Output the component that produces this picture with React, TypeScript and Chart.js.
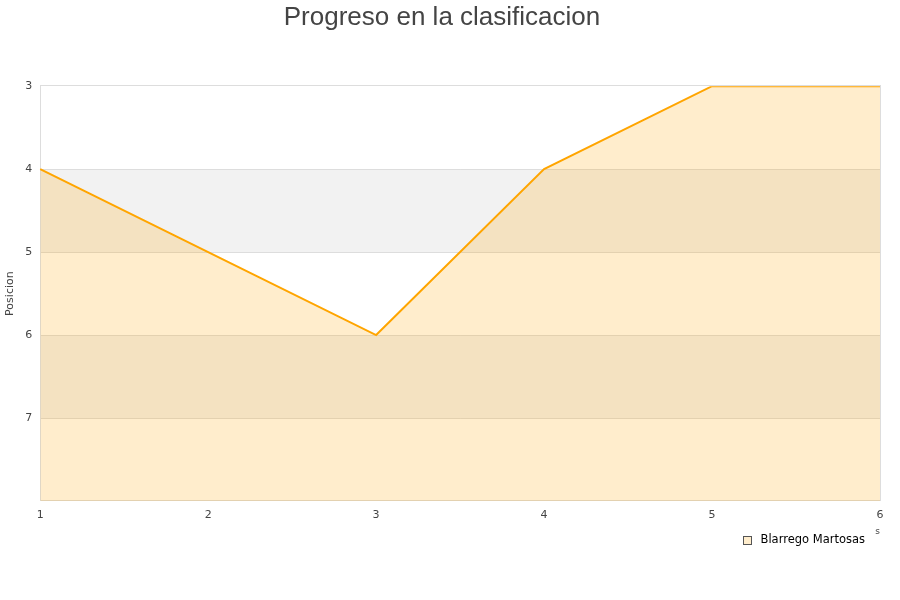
import React, { useEffect, useRef } from "react";
import { Chart, registerables } from "chart.js";

Chart.register(...registerables);

const jornadas = ["1", "2", "3", "4", "5", "6"];
const posiciones = [4, 5, 6, 4, 3, 3];
const yTicks = [3, 4, 5, 6, 7];
const seriesName = "Blarrego Martosas";
const chartTitle = "Progreso en la clasificacion";

const FILL = "rgba(255,165,0,0.2)";
const LINE = "#ffa500";

const bandsPlugin = {
  id: "bands",
  beforeDatasetsDraw(chart: any) {
    const { ctx, chartArea, scales } = chart;
    const y = scales.y;
    ctx.save();
    for (let v = 4; v < 8; v += 2) {
      const y1 = y.getPixelForValue(v);
      const y2 = y.getPixelForValue(v + 1);
      ctx.fillStyle = "#f2f2f2";
      ctx.fillRect(chartArea.left, Math.min(y1, y2), chartArea.right - chartArea.left, Math.abs(y2 - y1));
    }
    ctx.strokeStyle = "#dddddd";
    ctx.lineWidth = 1;
    for (const v of [4, 5, 6, 7]) {
      const p = Math.round(y.getPixelForValue(v)) + 0.5;
      ctx.beginPath();
      ctx.moveTo(chartArea.left, p);
      ctx.lineTo(chartArea.right, p);
      ctx.stroke();
    }
    ctx.strokeRect(
      Math.round(chartArea.left) + 0.5,
      Math.round(chartArea.top) - 0.5,
      Math.round(chartArea.right - chartArea.left),
      Math.round(chartArea.bottom - chartArea.top)
    );
    ctx.restore();
  },
};

const legendPlugin = {
  id: "customLegend",
  afterDraw(chart: any) {
    const { ctx, chartArea } = chart;
    ctx.save();
    ctx.font = "11.5px 'DejaVu Sans', sans-serif";
    ctx.textBaseline = "middle";
    ctx.textAlign = "right";
    const textRight = chartArea.right - 15;
    const cy = chartArea.bottom + 39.5;
    const w = ctx.measureText(seriesName).width;
    ctx.fillStyle = "#000000";
    ctx.fillText(seriesName, textRight, cy);
    const bx = Math.round(textRight - w - 18) + 0.5;
    const by = Math.round(cy - 4.5) + 0.5;
    ctx.fillStyle = FILL;
    ctx.fillRect(bx, by, 8, 8);
    ctx.strokeStyle = "#555555";
    ctx.lineWidth = 1;
    ctx.strokeRect(bx, by, 8, 8);
    ctx.restore();
  },
};

export default function App() {
  const ref = useRef<HTMLCanvasElement>(null);
  useEffect(() => {
    document.body.style.margin = "0";
    const chart = new Chart(ref.current as HTMLCanvasElement, {
      type: "line",
      data: {
        labels: jornadas,
        datasets: [
          {
            label: seriesName,
            data: posiciones,
            borderColor: LINE,
            backgroundColor: FILL,
            borderWidth: 2,
            fill: "start",
            pointRadius: 0,
            tension: 0,
          },
        ],
      },
      options: {
        animation: false,
        responsive: false,
        maintainAspectRatio: false,
        layout: { padding: { left: 4, right: 20, top: 0, bottom: 59 } },
        plugins: {
          title: {
            display: true,
            text: chartTitle,
            color: "#444444",
            font: { family: "'Liberation Sans', Arial, sans-serif", size: 26, weight: "normal" },
            padding: { top: 2, bottom: 53 },
          },
          legend: { display: false },
          tooltip: { enabled: false },
        },
        scales: {
          x: {
            type: "category",
            offset: false,
            grid: { display: false, drawTicks: false },
            border: { display: false },
            ticks: {
              color: "#444444",
              font: { family: "'DejaVu Sans', sans-serif", size: 11 },
              maxRotation: 0,
              padding: 8,
            },
            title: {
              display: true,
              text: "s",
              align: "end",
              color: "#444444",
              font: { family: "'DejaVu Sans', sans-serif", size: 9 },
              padding: { top: -4, bottom: 4 },
            },
          },
          y: {
            reverse: true,
            min: 3,
            max: 8,
            afterBuildTicks: (axis: any) => {
              axis.ticks = yTicks.map((v) => ({ value: v }));
            },
            grid: { display: false, drawTicks: false },
            border: { display: false },
            ticks: {
              color: "#444444",
              font: { family: "'DejaVu Sans', sans-serif", size: 11 },
              padding: 8,
            },
            title: {
              display: true,
              text: "Posicion",
              color: "#444444",
              font: { family: "'DejaVu Sans', sans-serif", size: 11 },
              padding: { top: 0, bottom: 0 },
            },
          },
        },
      },
      plugins: [bandsPlugin, legendPlugin],
    });
    return () => chart.destroy();
  }, []);
  return (
    <div style={{ width: 900, height: 600 }}>
      <canvas ref={ref} width={900} height={600} />
    </div>
  );
}
